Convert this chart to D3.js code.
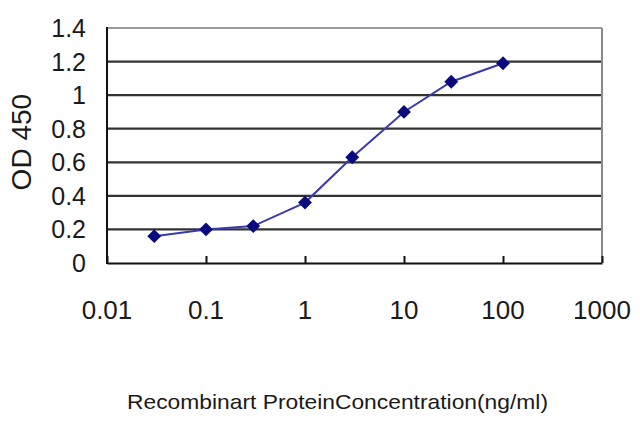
<!DOCTYPE html>
<html>
<head>
<meta charset="utf-8">
<script src="https://cdn.jsdelivr.net/npm/d3@7"></script>
<style>
    body { margin: 0; background: #fff; }
    text { font-family: "Liberation Sans", Arial, sans-serif; fill: #1a1a1a; }
</style>
</head>
<body>
<div id="chart"></div>
<script>
var concentrations = [0.03, 0.1, 0.3, 1, 3, 10, 30, 100];
var odValues = [0.16, 0.20, 0.22, 0.36, 0.63, 0.90, 1.08, 1.19];
var xTicks = [0.01, 0.1, 1, 10, 100, 1000];
var yTicks = [0, 0.2, 0.4, 0.6, 0.8, 1, 1.2, 1.4];
var xTitle = "Recombinart ProteinConcentration(ng/ml)";
var yTitle = "OD 450";

var svg_w = 640;
var svg_h = 427;
var margin = { left: 107, right: 38, top: 28, bottom: 164 };
var plot_w = svg_w - margin.left - margin.right;
var plot_h = svg_h - margin.top - margin.bottom;

var svg = d3.select("#chart").append("svg")
    .attr("width", svg_w)
    .attr("height", svg_h);

svg.append("rect")
    .attr("width", svg_w)
    .attr("height", svg_h)
    .attr("fill", "#fff");

var x = d3.scaleLog().domain([0.01, 1000]).range([margin.left, margin.left + plot_w]);
var y = d3.scaleLinear().domain([0, 1.4]).range([margin.top + plot_h, margin.top]);

// gridlines (top one is the lighter frame)
svg.append("g").selectAll("line")
    .data(yTicks.filter(function (d) { return d > 0; }))
    .enter().append("line")
    .attr("x1", x(0.01))
    .attr("x2", x(1000))
    .attr("y1", function (d) { return y(d); })
    .attr("y2", function (d) { return y(d); })
    .attr("stroke", function (d) { return d == 1.4 ? "#9a9a9a" : "#333"; })
    .attr("stroke-width", 2.2);

// right frame
svg.append("line")
    .attr("x1", x(1000)).attr("x2", x(1000))
    .attr("y1", y(1.4)).attr("y2", y(0))
    .attr("stroke", "#8a8a8a")
    .attr("stroke-width", 2);

// left axis
svg.append("line")
    .attr("x1", x(0.01)).attr("x2", x(0.01))
    .attr("y1", y(1.4) - 1).attr("y2", y(0) + 1)
    .attr("stroke", "#111")
    .attr("stroke-width", 2);

// bottom axis with inside ticks
var xAxis = d3.axisBottom(x)
    .tickValues(xTicks)
    .tickSizeInner(-7)
    .tickSizeOuter(0)
    .tickFormat("");
var xg = svg.append("g")
    .attr("transform", "translate(0," + y(0) + ")")
    .call(xAxis);
xg.select(".domain").attr("stroke", "#111").attr("stroke-width", 2);
xg.selectAll(".tick line").attr("stroke", "#111").attr("stroke-width", 2);

// x tick labels
svg.append("g").selectAll("text")
    .data(xTicks)
    .enter().append("text")
    .attr("x", function (d) { return x(d); })
    .attr("y", y(0) + 56)
    .attr("text-anchor", "middle")
    .attr("font-size", 26)
    .text(function (d) { return String(d); });

// y tick labels
svg.append("g").selectAll("text")
    .data(yTicks)
    .enter().append("text")
    .attr("x", margin.left - 21)
    .attr("y", function (d) { return y(d); })
    .attr("dy", "0.36em")
    .attr("text-anchor", "end")
    .attr("font-size", 25)
    .text(function (d) { return String(d); });

// axis titles
svg.append("text")
    .attr("x", 127)
    .attr("y", 409)
    .attr("font-size", 21)
    .attr("textLength", 421)
    .attr("lengthAdjust", "spacingAndGlyphs")
    .text(xTitle);

svg.append("text")
    .attr("transform", "translate(31," + y(0.72) + ") rotate(-90)")
    .attr("text-anchor", "middle")
    .attr("font-size", 28)
    .text(yTitle);

// series
var points = concentrations.map(function (c, i) { return { c: c, v: odValues[i] }; });

var line = d3.line()
    .x(function (d) { return x(d.c); })
    .y(function (d) { return y(d.v); });

svg.append("path")
    .datum(points)
    .attr("d", line)
    .attr("fill", "none")
    .attr("stroke", "#3a3ab0")
    .attr("stroke-width", 2);

svg.append("g").selectAll("path")
    .data(points)
    .enter().append("path")
    .attr("d", d3.symbol().type(d3.symbolSquare).size(96))
    .attr("transform", function (d) {
        return "translate(" + x(d.c) + "," + y(d.v) + ") rotate(45)";
    })
    .attr("fill", "#0a0a80");
</script>
</body>
</html>
